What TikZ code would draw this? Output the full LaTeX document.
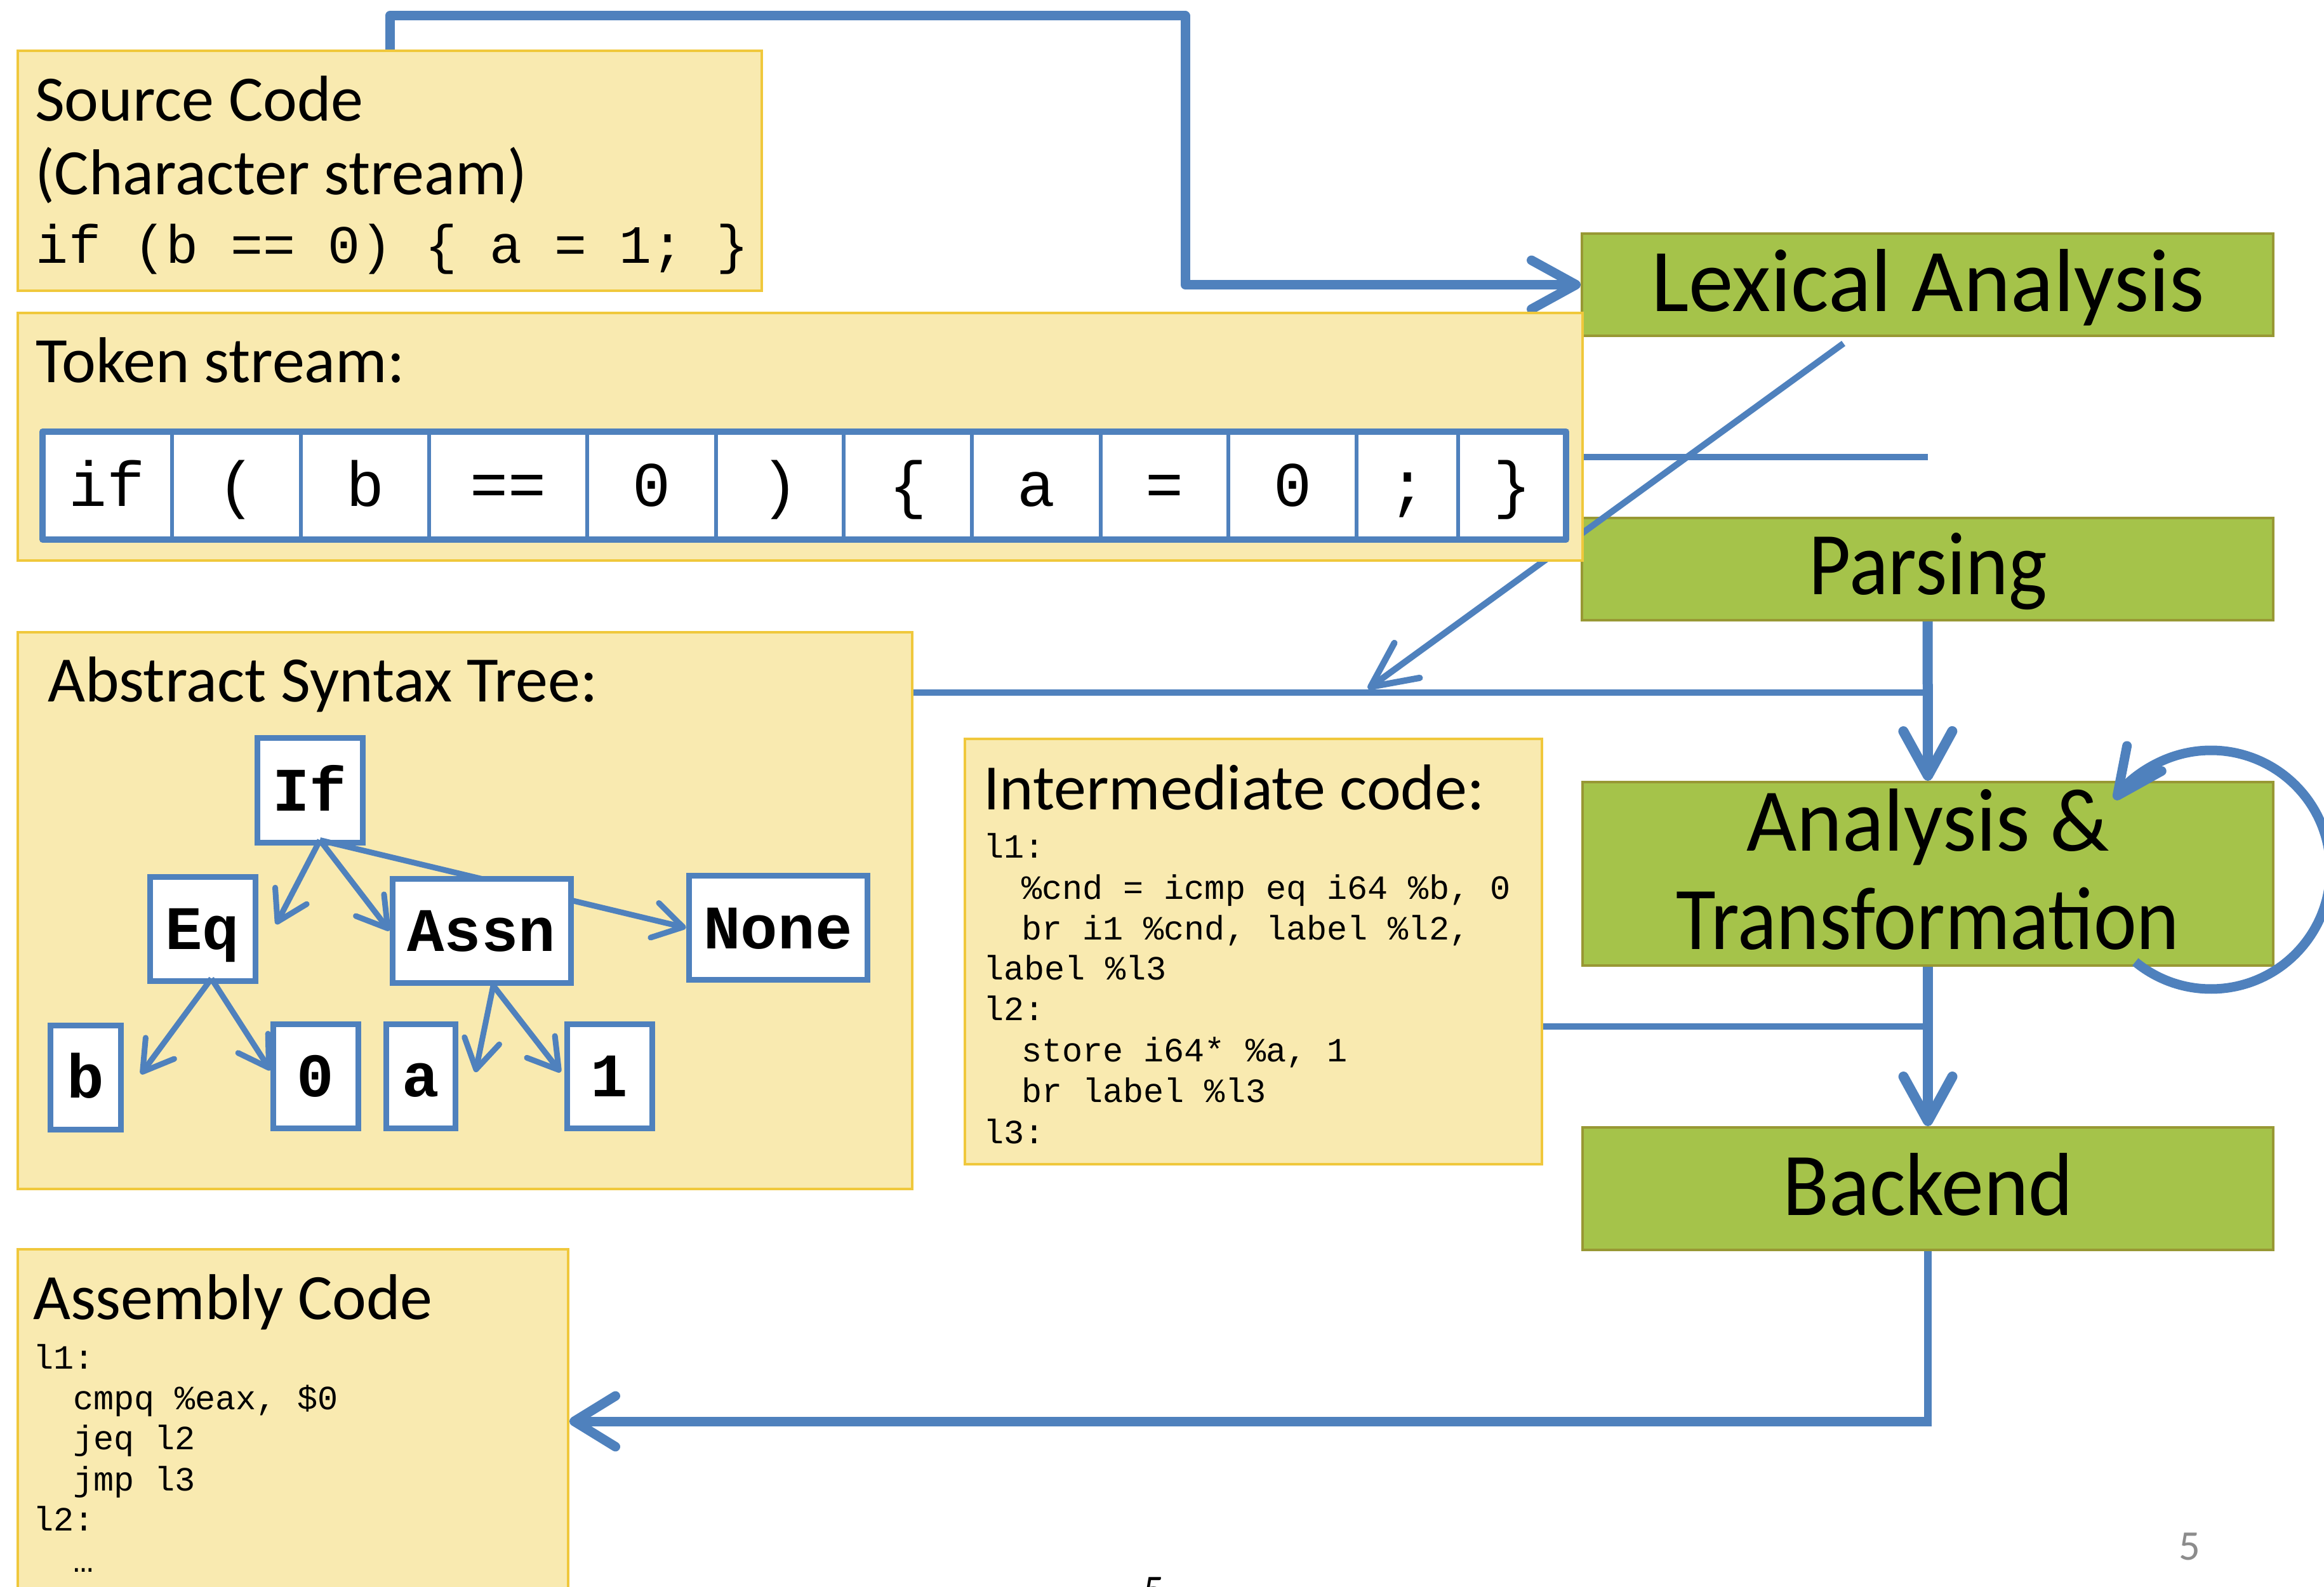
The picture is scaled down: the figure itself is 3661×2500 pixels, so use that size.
\documentclass[tikz,border=0pt]{standalone}
\usepackage{graphicx}
\usepackage{fontspec}
\setmainfont{Carlito}
\newfontfamily\codefont{Liberation Mono}
\usetikzlibrary{arrows.meta,fit,calc}
\definecolor{pblue}{RGB}{79,129,189}
\definecolor{ygfill}{RGB}{249,234,176}
\definecolor{ygline}{RGB}{240,200,60}
\definecolor{grfill}{RGB}{165,195,74}
\definecolor{grline}{RGB}{152,152,52}
\definecolor{pgnum}{RGB}{140,140,140}
\begin{document}
\begin{tikzpicture}[x=0.2pt,y=-0.2pt,
  ybox/.style={fill=ygfill,draw=ygline,line width=0.8pt,inner sep=0pt},
  gbox/.style={fill=grfill,draw=grline,line width=0.8pt,inner sep=0pt},
  ttl/.style={anchor=base west,inner sep=0pt,font=\fontsize{20.4pt}{25pt}\selectfont},
  gtxt/.style={anchor=base,inner sep=0pt,font=\fontsize{28.2pt}{31pt}\selectfont},
  codeln/.style={anchor=base west,inner sep=0pt,font=\codefont\fontsize{10.7pt}{12.8pt}\selectfont},
  cell/.style={fill=white,draw=pblue,line width=1.2pt,inner sep=0pt,outer sep=0pt,
    minimum height=34pt,text height=13pt,text depth=0pt,
    font=\codefont\fontsize{20pt}{24pt}\selectfont},
  astn/.style={fill=white,draw=pblue,line width=1.8pt,inner sep=0pt,
    minimum height=32.8pt,text height=13pt,text depth=0pt,
    font=\codefont\bfseries\fontsize{19.5pt}{22pt}\selectfont},
  mainarr/.style={pblue,line width=3pt,line join=round,
    -{Straight Barb[length=14pt,width=15.4pt,round]}},
  thinline/.style={pblue,line width=2pt},
  diagarr/.style={pblue,line width=2pt,
    -{Straight Barb[length=14.2pt,width=13.6pt,round]}},
  astarr/.style={pblue,line width=1.8pt,
    -{Straight Barb[length=9.2pt,width=11.2pt,round]}},
  loopline/.style={pblue,line width=3pt,
    -{Straight Barb[length=14.5pt,width=13.5pt,round]}}
]
\useasboundingbox (0,0) rectangle (3661,2500);

% green pipeline boxes
\node[gbox,fit={(2492,368) (3581,529)}] (lex) {};
\node[gtxt] (lext) at (3037,491) {Lexical Analysis};
\node[gbox,fit={(2492,816) (3581,977)}] (parse) {};
\node[gtxt] (parset) at (3037,937) {\scalebox{0.91}[1]{Parsing}};
\node[gbox,fit={(2493,1232) (3581,1521)}] (at) {};
\node[gtxt] (att1) at (3037,1340) {\scalebox{0.97}[1]{Analysis \&}};
\node[gtxt] (att2) at (3037,1495) {\scalebox{0.91}[1]{Transformation}};
\node[gbox,fit={(2493,1776) (3581,1969)}] (backend) {};
\node[gtxt] (backt) at (3037,1914) {\scalebox{0.95}[1]{Backend}};

% source code box
\node[ybox,fit={(28,80) (1200,458)}] (src) {};
\node[ttl] (srct1) at (54,191) {Source Code};
\node[ttl] (srct2) at (54,307) {(Character stream)};
\node[codeln,font=\codefont\fontsize{17pt}{20pt}\selectfont] (srct3) at (56,415) {if (b == 0) \{ a = 1; \}};

\coordinate (c1) at (1867,25);
\draw[mainarr] (src.north) |- (c1) |- (lex.west);

% diagonal arrow (behind token box)
\coordinate (d0) at (2904,541);
\coordinate (d1) at (2155,1085);
\draw[diagarr] (d0) -- (d1);

% token stream box
\node[ybox,fit={(28,493) (2493,883)}] (tokbox) {};
\node[ttl] (tokt) at (56,603) {Token stream:};
\node[cell,minimum width=40.8pt] (t1) at (169,765) {if};
\node[cell,minimum width=40.6pt] (t2) at (372.5,765) {(};
\node[cell,minimum width=40.4pt] (t3) at (575,765) {b};
\node[cell,minimum width=49.8pt] (t4) at (800.5,765) {==};
\node[cell,minimum width=40.6pt] (t5) at (1026.5,765) {0};
\node[cell,minimum width=40.2pt] (t6) at (1228.5,765) {)};
\node[cell,minimum width=40.4pt] (t7) at (1430,765) {\{};
\node[cell,minimum width=40.6pt] (t8) at (1632.5,765) {a};
\node[cell,minimum width=40.2pt] (t9) at (1834.5,765) {=};
\node[cell,minimum width=40.4pt] (t10) at (2036,765) {0};
\node[cell,minimum width=32pt] (t11) at (2217,765) {;};
\node[cell,minimum width=34pt] (t12) at (2382,765) {\}};
\draw[pblue,line width=2pt,line join=round] (t1.north west) rectangle (t12.south east);

\coordinate (j0) at (3037,720);
\draw[thinline] (j0 -| tokbox.east) -- (j0);

% AST box
\node[ybox,fit={(28,996) (1437,1873)}] (ast) {};
\node[ttl] (astt) at (74,1105) {Abstract Syntax Tree:};
\node[astn,minimum width=33.2pt] (nif) at (488,1245) {If};
\node[astn,minimum width=33.2pt] (neq) at (319,1463) {Eq};
\node[astn,minimum width=56.2pt] (nnone) at (1225.5,1461.5) {None};
\coordinate (ifb) at ([xshift=3.2pt,yshift=1.6pt]nif.south);
\draw[astarr] (ifb) -- (nnone.west);
\node[astn,minimum width=56.2pt] (nassn) at (758.5,1466) {Assn};
\node[astn,minimum width=22.2pt] (nb) at (134.5,1697) {b};
\node[astn,minimum width=26.8pt] (n0) at (497,1695) {0};
\node[astn,minimum width=21.8pt] (na) at (662.5,1695) {a};
\node[astn,minimum width=26.8pt] (n1) at (960,1695) {1};
\coordinate (eqb) at ([xshift=2.8pt,yshift=1.6pt]neq.south);
\coordinate (assnb) at ([xshift=3.7pt]nassn.south);
\coordinate (tEq) at (435,1456);
\coordinate (tb) at (222,1692);
\coordinate (t0) at (426,1686);
\coordinate (ta) at (749,1689);
\coordinate (tone) at (883,1689);
\draw[astarr] (ifb) -- (tEq);
\draw[astarr] (ifb) -- (nassn.west);
\draw[astarr] (eqb) -- (tb);
\draw[astarr] (eqb) -- (t0);
\draw[astarr] (assnb) -- (ta);
\draw[astarr] (assnb) -- (tone);

% intermediate code box
\node[ybox,fit={(1520,1164) (2429,1834)}] (ir) {};
\node[ttl] (irt) at (1548,1275) {Intermediate code:};
\node[codeln] (ir1) at (1548,1351) {l1:};
\node[codeln] (ir2) at (1608,1416) {\%cnd = icmp eq i64 \%b, 0};
\node[codeln] (ir3) at (1608,1480) {br i1 \%cnd, label \%l2,};
\node[codeln] (ir4) at (1548,1543) {label \%l3};
\node[codeln] (ir5) at (1548,1607) {l2:};
\node[codeln] (ir6) at (1608,1672) {store i64* \%a, 1};
\node[codeln] (ir7) at (1608,1736) {br label \%l3};
\node[codeln] (ir8) at (1548,1801) {l3:};

% assembly box
\node[ybox,fit={(28,1968) (895,2540)}] (asm) {};
\node[ttl] (asmt) at (51,2078) {Assembly Code};
\node[codeln] (as1) at (51,2156) {l1:};
\node[codeln] (as2) at (114,2220) {cmpq \%eax, \$0};
\node[codeln] (as3) at (114,2283) {jeq l2};
\node[codeln] (as4) at (114,2348) {jmp l3};
\node[codeln] (as5) at (51,2411) {l2:};
\node[codeln] (as6) at (114,2476) {…};

% pipeline connectors
\draw[mainarr,line width=3.2pt] (parse.south) -- (at.north);
\coordinate (j1) at (3037,1091);
\draw[thinline] (j1) -- (j1 -| ast.east);
\draw[mainarr,line width=3.2pt] (at.south) -- (backend.north);
\coordinate (j2) at (3037,1617);
\draw[thinline] (j2) -- (j2 -| ir.east);
\coordinate (j3) at (3037,2239);
\draw[pblue,line width=2.4pt] (backend.south) -- (j3);
\draw[pblue,line width=3pt,-{Straight Barb[length=13pt,width=16pt,round]}] ([xshift=1.2pt]j3) -- (j3 -| asm.east);

% self loop on analysis & transformation
\draw[loopline] ($(3483,1370)+(129.4:188)$) arc[start angle=129.4, end angle=-144, radius=188];

% page numbers
\node[anchor=base,inner sep=0pt,text=pgnum,font=\fontsize{13.3pt}{15pt}\selectfont] (pg1) at (3449,2457) {5};
\node[anchor=base,inner sep=0pt,font=\fontsize{13pt}{15pt}\selectfont] (pg2) at (1818,2526) {5};
\end{tikzpicture}
\end{document}
